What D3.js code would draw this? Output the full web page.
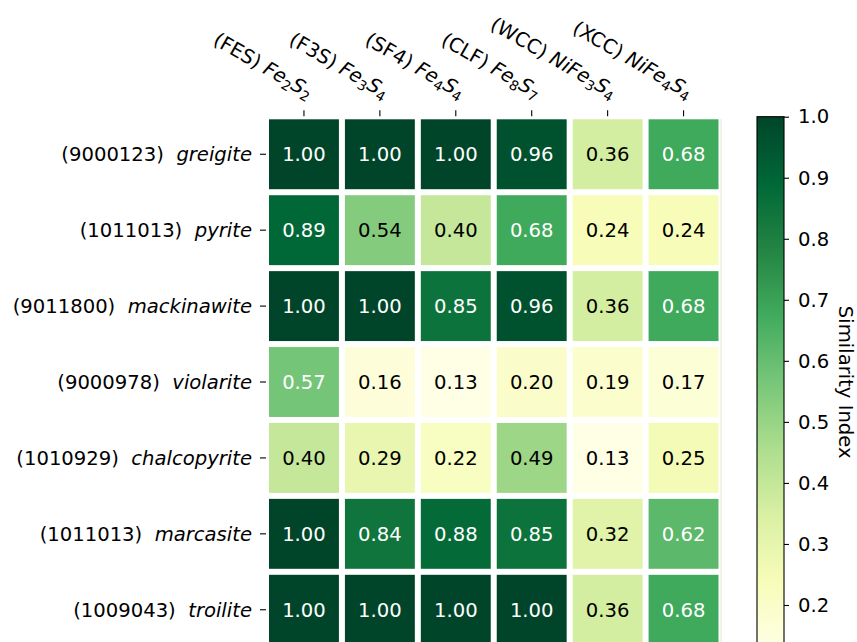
<!DOCTYPE html>
<html>
<head>
<meta charset="utf-8">
<script src="https://cdn.jsdelivr.net/npm/d3@7"></script>
<style>
  html, body { margin: 0; padding: 0; background: #fff; }
  svg { display: block; font-family: "DejaVu Sans", sans-serif; }
</style>
</head>
<body>
<svg id="chart" width="857" height="642"></svg>
<script>
// ---- data ----
const rowIds = ["(9000123)", "(1011013)", "(9011800)", "(9000978)", "(1010929)", "(1011013)", "(1009043)"];
const rowNames = ["greigite", "pyrite", "mackinawite", "violarite", "chalcopyrite", "marcasite", "troilite"];
const colCodes = ["(FES)", "(F3S)", "(SF4)", "(CLF)", "(WCC)", "(XCC)"];
// formula parts: [element, subscript] pairs
const colFormulas = [
  [["Fe", "2"], ["S", "2"]],
  [["Fe", "3"], ["S", "4"]],
  [["Fe", "4"], ["S", "4"]],
  [["Fe", "8"], ["S", "7"]],
  [["NiFe", "3"], ["S", "4"]],
  [["NiFe", "4"], ["S", "4"]]
];
const values = [
  [1.00, 1.00, 1.00, 0.96, 0.36, 0.68],
  [0.89, 0.54, 0.40, 0.68, 0.24, 0.24],
  [1.00, 1.00, 0.85, 0.96, 0.36, 0.68],
  [0.57, 0.16, 0.13, 0.20, 0.19, 0.17],
  [0.40, 0.29, 0.22, 0.49, 0.13, 0.25],
  [1.00, 0.84, 0.88, 0.85, 0.32, 0.62],
  [1.00, 1.00, 1.00, 1.00, 0.36, 0.68]
];
const cbTicks = [0.2, 0.3, 0.4, 0.5, 0.6, 0.7, 0.8, 0.9, 1.0];
const cbLabel = "Similarity Index";

// ---- layout ----
const svg = d3.select("#chart");
const gridLeft = 266, gridRight = 721.5, gridTop = 116.3;
const pitch = (gridRight - gridLeft) / colCodes.length;
const gridBottom = gridTop + pitch * rowNames.length;
const fontSize = 19.6;

const x = d3.scaleBand().domain(d3.range(colCodes.length)).range([gridLeft, gridRight]).padding(0);
const y = d3.scaleBand().domain(d3.range(rowNames.length)).range([gridTop, gridBottom]).padding(0);

const flat = values.flat();
const vmin = d3.min(flat), vmax = d3.max(flat);
const ylgn = ["#ffffe5","#f7fcb9","#d9f0a3","#addd8e","#78c679","#41ab5d","#238443","#006837","#004529"];
const color = d3.scaleLinear()
  .domain(ylgn.map((_, i) => vmin + (vmax - vmin) * i / (ylgn.length - 1)))
  .range(ylgn)
  .interpolate(d3.interpolateRgb)
  .clamp(true);

// ---- cells ----
const cells = [];
values.forEach((row, r) => row.forEach((v, c) => cells.push({r, c, v})));
const gap = 6;
const cg = svg.append("g");
cg.selectAll("rect").data(cells).join("rect")
  .attr("x", d => x(d.c) + gap / 2)
  .attr("y", d => y(d.r) + gap / 2)
  .attr("width", x.bandwidth() - gap)
  .attr("height", y.bandwidth() - gap)
  .attr("fill", d => color(d.v));
cg.selectAll("text").data(cells).join("text")
  .attr("x", d => x(d.c) + x.bandwidth() / 2)
  .attr("y", d => y(d.r) + y.bandwidth() / 2)
  .attr("dy", "0.36em")
  .attr("text-anchor", "middle")
  .attr("font-size", fontSize)
  .attr("fill", d => d.v > 0.55 ? "#ffffff" : "#000000")
  .text(d => d.v.toFixed(2));

// faint right edge line
svg.append("line")
  .attr("x1", gridRight - 0.5).attr("x2", gridRight - 0.5)
  .attr("y1", gridTop + gap / 2).attr("y2", gridBottom)
  .attr("stroke", "#dfe9d8").attr("stroke-width", 1);

// ---- y axis (left) ----
const yAxis = svg.append("g");
rowNames.forEach((name, r) => {
  const cy = y(r) + y.bandwidth() / 2;
  yAxis.append("line")
    .attr("x1", gridLeft - 6).attr("x2", gridLeft)
    .attr("y1", cy).attr("y2", cy)
    .attr("stroke", "#000").attr("stroke-width", 1.1);
  const t = yAxis.append("text")
    .attr("x", gridLeft - 14).attr("y", cy).attr("dy", "0.36em")
    .attr("text-anchor", "end").attr("font-size", fontSize).attr("fill", "#000");
  t.append("tspan").text(rowIds[r] + "\u00a0\u00a0");
  t.append("tspan").attr("font-style", "italic").text(name);
});

// ---- x axis (top) ----
const xAxis = svg.append("g");
colCodes.forEach((code, c) => {
  const cx = x(c) + x.bandwidth() / 2;
  xAxis.append("line")
    .attr("x1", cx).attr("x2", cx)
    .attr("y1", gridTop - 6).attr("y2", gridTop)
    .attr("stroke", "#000").attr("stroke-width", 1.1);
  const t = xAxis.append("text")
    .attr("transform", `translate(${cx + 4},${99}) rotate(30)`)
    .attr("text-anchor", "end").attr("font-size", fontSize).attr("fill", "#000");
  t.append("tspan").text(code + "\u00a0");
  colFormulas[c].forEach(([el, sub]) => {
    t.append("tspan").attr("font-style", "italic").text(el);
    t.append("tspan").attr("font-size", fontSize * 0.7).attr("dy", 4).text(sub);
    t.append("tspan").attr("dy", -4).text("\u200b");
  });
});

// ---- colorbar ----
const cbX = 757, cbW = 27, cbTop = gridTop + 0.4, cbBottom = gridBottom;
const cbScale = d3.scaleLinear().domain([vmin, vmax]).range([cbBottom, cbTop]);
const defs = svg.append("defs");
const grad = defs.append("linearGradient").attr("id", "cbgrad")
  .attr("x1", 0).attr("y1", 1).attr("x2", 0).attr("y2", 0);
grad.selectAll("stop").data(color.domain()).join("stop")
  .attr("offset", d => (d - vmin) / (vmax - vmin))
  .attr("stop-color", d => color(d));
svg.append("rect")
  .attr("x", cbX).attr("y", cbTop).attr("width", cbW).attr("height", cbBottom - cbTop)
  .attr("fill", "url(#cbgrad)").attr("stroke", "#000").attr("stroke-width", 1.1);
const cbAxis = svg.append("g").attr("transform", `translate(${cbX + cbW},0)`)
  .call(d3.axisRight(cbScale).tickValues(cbTicks).tickFormat(d3.format(".1f")).tickSize(5).tickPadding(9));
cbAxis.select(".domain").remove();
cbAxis.selectAll("line").attr("stroke", "#000").attr("stroke-width", 1.1);
cbAxis.selectAll("text").attr("font-size", fontSize).attr("font-family", "DejaVu Sans").attr("fill", "#000");

svg.append("text")
  .attr("transform", `translate(839,${(cbTop + cbBottom) / 2}) rotate(90)`)
  .attr("text-anchor", "middle").attr("font-size", fontSize).attr("fill", "#000")
  .text(cbLabel);
</script>
</body>
</html>
